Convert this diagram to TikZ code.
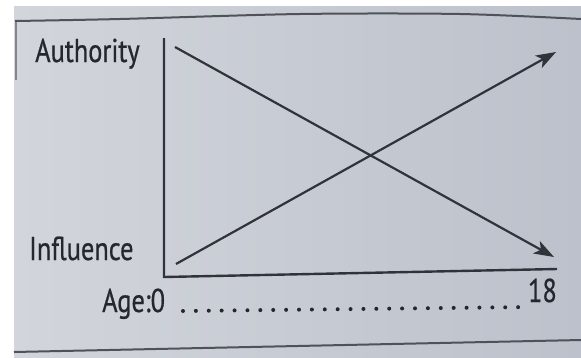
\documentclass[tikz,border=0pt]{standalone}
\usepackage{fontspec}
\setmainfont{PT Sans}[FakeStretch=0.8,FakeBold=0.6]
\usetikzlibrary{arrows.meta}
\definecolor{paper}{RGB}{200,204,212}
\definecolor{paperlight}{RGB}{210,213,219}
\definecolor{paperdark}{RGB}{188,193,203}
\definecolor{ink}{RGB}{48,51,58}
\definecolor{textink}{RGB}{36,39,46}
\tikzset{
  axisline/.style={draw=ink, line width=2.4pt},
  trendline/.style={draw=ink, line width=2.2pt, -{Stealth[length=20pt,width=14pt,inset=5pt]}},
  framerule/.style={draw=ink!85, line width=2pt},
  label/.style={inner sep=0pt, font=\fontsize{33}{34}\selectfont, text=textink},
  dotline/.style={draw=textink, line width=4pt, line cap=round, dash pattern=on 0pt off 12.89pt}
}
\begin{document}
\begin{tikzpicture}[x=1pt,y=-1pt]
\useasboundingbox (0,0) rectangle (581,357);
% page
\fill[white] (0,0) rectangle (581,357);
\shade[left color=paperlight, right color=paperdark] (14,6) rectangle (581,357);
% frame rules
\draw[framerule] plot[smooth] coordinates {(15,21) (120,19) (300,14) (460,14) (581,19)};
\draw[framerule, draw opacity=0.6] (16,21) -- (16,80);
\draw[framerule] (14,352) -- (581,340);
% axes
\coordinate (ytop) at (164,38);
\coordinate (origin) at (164,277);
\coordinate (xend) at (557,269);
\draw[axisline] (ytop) -- (origin) -- (xend);
% trend lines
\coordinate (aStart) at (175,47);
\coordinate (aEnd) at (554,257);
\coordinate (iStart) at (176,264);
\coordinate (iEnd) at (556,52);
\draw[trendline] (aStart) -- (aEnd);
\draw[trendline] (iStart) -- (iEnd);
% labels
\node[label, anchor=base west] (authority) at (35,62) {Authority};
\node[label, anchor=base west] (influence) at (29,260) {Influence};
\node[label, anchor=base west] (age) at (102,312) {Age:0};
\node[label, anchor=base east] (eighteen) at (557,302) {18};
% dotted age scale
\coordinate (d0) at (183,311);
\coordinate (d1) at (531,307);
\draw[dotline] (d0) -- (d1);
\end{tikzpicture}
\end{document}
